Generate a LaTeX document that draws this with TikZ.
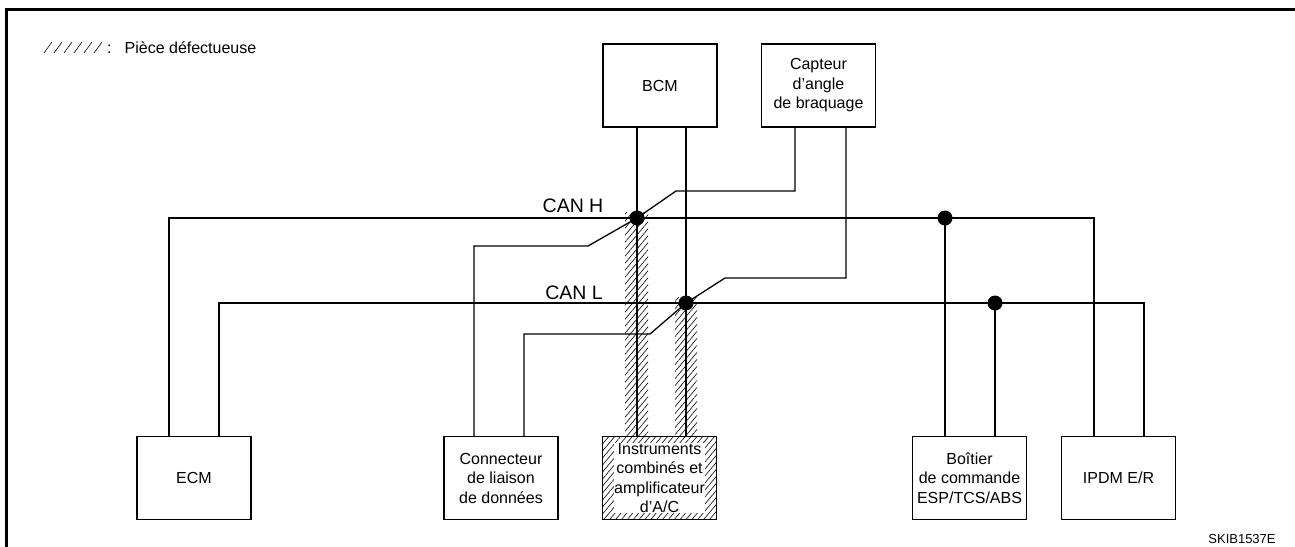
\documentclass[tikz,border=0pt]{standalone}
\usepackage{fontspec}
\setmainfont{Liberation Sans}
\usetikzlibrary{positioning,patterns.meta}

\begin{document}
\begin{tikzpicture}[
    x=1pt, y=-1pt,
    font=\fontsize{16}{19.5}\selectfont,
    unit/.style={draw, line width=1.4pt, minimum width=114pt, minimum height=83pt, align=center, inner sep=0pt},
    wire/.style={line width=1.3pt},
    faulty/.style={pattern={Lines[angle=50,distance=4.5pt,line width=0.6pt]}},
    junc/.style={circle, fill, inner sep=0pt, minimum size=15pt},
    bus/.style={font=\fontsize{19.5}{22}\selectfont}
]
\useasboundingbox (0,0) rectangle (1295,546);
\draw[line width=3pt] (6.5,560) -- (6.5,9.5) -- (1310,9.5);

% legend
\foreach \i in {0,...,5}
    \draw[line width=0.6pt] (44+10*\i,53) -- (52+10*\i,42);
\node[anchor=west, inner sep=0pt] (legend) at (107,48) {:\hspace{13pt}Pièce défectueuse};

\node[unit] (bcm) at (660,85.5) {BCM};
\node[unit] (sas) at (818.5,85.5) {Capteur\\d’angle\\de braquage};
\node[unit] (ecm) at (194,478) {ECM};
\node[unit] (dlc) at (501,478) {Connecteur\\de liaison\\de données};
\node[unit, faulty] (meter) at (659.5,478) {};
\node[fill=white, inner sep=0.5pt, align=center] (metertxt) at (meter) {Instruments\\combinés et\\amplificateur\\d’A/C};
\node[unit] (abs) at (969.5,478) {Boîtier\\de commande\\ESP/TCS/ABS};
\node[unit] (ipdm) at (1118.5,478) {IPDM E/R};

\coordinate (h1) at (637,218);
\coordinate (h2) at (945,218);
\coordinate (l1) at (686,303);
\coordinate (l2) at (995,303);

\path[faulty] (625,212) rectangle (648,436);
\path[faulty] (675,297) rectangle (697,436);

\draw[wire] ([xshift=-25pt]ecm.north) |- (h1) -- (h2) -| ([xshift=-24.5pt]ipdm.north);
\draw[wire] ([xshift=25pt]ecm.north) |- (l1) -- (l2) -| ([xshift=25.5pt]ipdm.north);
\draw[wire] (bcm.south -| h1) -- (h1) -- (meter.north -| h1);
\draw[wire] (bcm.south -| l1) -- (l1) -- (meter.north -| l1);
\draw[wire] (h2) -- (abs.north -| h2);
\draw[wire] (l2) -- (abs.north -| l2);
\draw[wire] (sas.south -| 795,0) -- (795,191) -- (676,191) -- (h1) -- (588,246) -- (474,246) -- (dlc.north -| 474,0);
\draw[wire] (sas.south -| 846,0) -- (846,278) -- (725,278) -- (l1) -- (650,334) -- (524,334) -- (dlc.north -| 524,0);

\foreach \j in {h1,h2,l1,l2}
    \node[junc] (dot-\j) at (\j) {};

\node[bus] (canh) at (573,206) {CAN H};
\node[bus] (canl) at (574,293) {CAN L};
\node[font=\fontsize{13}{15}\selectfont] (ref) at (1242,539) {SKIB1537E};
\end{tikzpicture}
\end{document}
